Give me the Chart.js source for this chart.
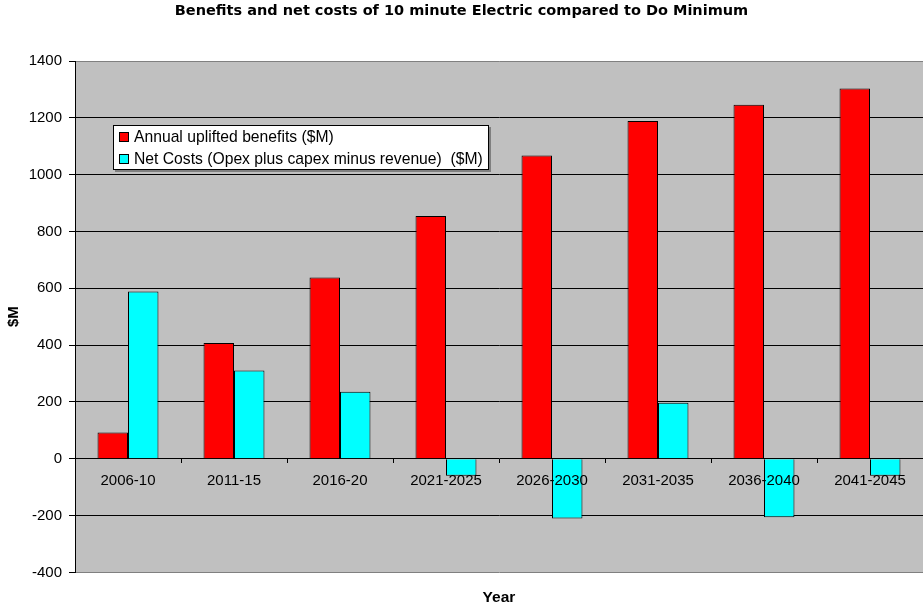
<!DOCTYPE html>
<html>
<head>
<meta charset="utf-8">
<script src="https://cdn.jsdelivr.net/npm/chart.js@4.4.1/dist/chart.umd.min.js"></script>
<style>
  body { margin: 0; background: #fff; }
  #wrap { position: relative; width: 923px; height: 604px; overflow: hidden; }
  #leyenda {
    position: absolute; left: 113px; top: 125px; width: 374px; height: 43px;
    background: #fff; border: 1px solid #000; box-shadow: 2px 2px 0 #7f7f7f;
    font: 15.7px "Liberation Sans", Arial, sans-serif; color: #000;
  }
  .fila { position: absolute; left: 5px; height: 18px; line-height: 18px; white-space: pre; }
  .cuadro { display: inline-block; width: 8px; height: 8px; border: 1px solid #000; margin-right: 5px; vertical-align: 0px; }
</style>
</head>
<body>
<div id="wrap">
  <canvas id="grafica" width="923" height="604"></canvas>
  <div id="leyenda"></div>
</div>
<script>
const periodos = ['2006-10', '2011-15', '2016-20', '2021-2025', '2026-2030', '2031-2035', '2036-2040', '2041-2045'];
const beneficios = [92, 407, 638, 854, 1067, 1189, 1246, 1303];
const costesNetos = [589, 311, 236, -60, -210, 197, -206, -60];
const nombreBeneficios = 'Annual uplifted benefits ($M)';
const nombreCostes = 'Net Costs (Opex plus capex minus revenue)  ($M)';
const ejeMin = -400;
const ejeMax = 1400;
const paso = 200;

const fuente = '"Liberation Sans", Arial, sans-serif';

// fondo gris del area de trazado
const fondoPlot = {
  id: 'fondoPlot',
  beforeDraw(chart) {
    const { ctx, chartArea: a } = chart;
    ctx.save();
    ctx.fillStyle = '#C0C0C0';
    ctx.fillRect(a.left, a.top, a.right - a.left, a.bottom - a.top);
    ctx.restore();
  }
};

const ctx = document.getElementById('grafica').getContext('2d');
const grafica = new Chart(ctx, {
  type: 'bar',
  data: {
    labels: periodos,
    datasets: [
      { label: nombreBeneficios, data: beneficios, backgroundColor: '#FF0000', borderColor: '#000', borderWidth: 1 },
      { label: nombreCostes, data: costesNetos, backgroundColor: '#00FFFF', borderColor: '#000', borderWidth: 1 }
    ]
  },
  options: {
    responsive: false,
    animation: false,
    layout: { padding: 0 },
    datasets: { bar: { categoryPercentage: 0.575, barPercentage: 1 } },
    scales: {
      x: {
        position: { y: 0 },
        border: { display: false },
        grid: { drawOnChartArea: false, drawTicks: true, tickLength: 4, color: '#000', offset: true, z: 1 },
        ticks: { z: 1, color: '#000', font: { family: fuente, size: 15 }, padding: 9, maxRotation: 0, autoSkip: false }
      },
      y: {
        min: ejeMin,
        max: ejeMax,
        afterFit(s) { s.width = 75; },
        border: { display: true, color: '#000' },
        grid: {
          color: c => (c.tick && (c.tick.value === ejeMax || c.tick.value === ejeMin)) ? '#808080' : '#000',
          tickColor: '#000',
          tickLength: 6
        },
        ticks: {
          stepSize: paso,
          color: '#000',
          font: { family: fuente, size: 15 },
          padding: 7,
          callback: v => String(v)
        },
        title: { display: true, text: '$M', color: '#000', font: { family: fuente, size: 15, weight: 'bold' }, padding: { top: 5, bottom: 0 } }
      }
    },
    plugins: {
      legend: { display: false },
      tooltip: { enabled: false },
      title: {
        display: true,
        text: 'Benefits and net costs of 10 minute Electric compared to Do Minimum',
        color: '#000',
        font: { family: '"DejaVu Sans", Verdana, sans-serif', size: 14.5, weight: 'bold' },
        padding: { top: 3, bottom: 40.6 }
      },
      subtitle: {
        display: true,
        position: 'bottom',
        fullSize: false,
        text: 'Year',
        color: '#000',
        font: { family: fuente, size: 15.5, weight: 'bold' },
        padding: { top: 16, bottom: -3 }
      }
    }
  },
  plugins: [fondoPlot]
});

// leyenda en html con los nombres de las series
const leyenda = document.getElementById('leyenda');
grafica.data.datasets.forEach((ds, i) => {
  const fila = document.createElement('div');
  fila.className = 'fila';
  fila.style.top = (2 + i * 22) + 'px';
  const cuadro = document.createElement('span');
  cuadro.className = 'cuadro';
  cuadro.style.background = ds.backgroundColor;
  fila.appendChild(cuadro);
  fila.appendChild(document.createTextNode(ds.label));
  leyenda.appendChild(fila);
});
</script>
</body>
</html>
